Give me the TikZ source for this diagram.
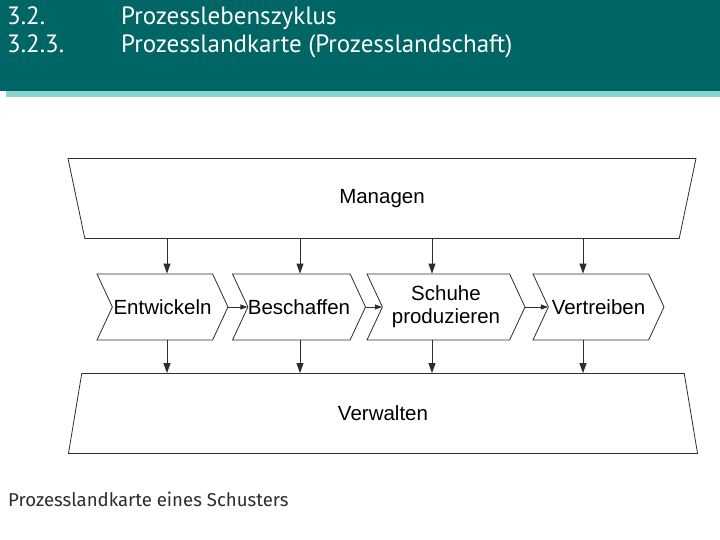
\documentclass[tikz,border=0pt]{standalone}
\usepackage{fontspec}
\setmainfont{Liberation Sans}
\newfontfamily\headfont{PT Sans}
\newfontfamily\capfont{Fira Sans}
\usetikzlibrary{shapes.geometric,shapes.symbols,arrows.meta}
\definecolor{headteal}{RGB}{0,101,101}
\definecolor{stripteal}{RGB}{137,212,207}
\definecolor{linegray}{RGB}{45,45,45}

\begin{document}
\begin{tikzpicture}[x=1pt,y=-1pt]
\tikzstyle{every node}+=[inner sep=0pt]
\tikzstyle{band}=[trapezium, trapezium stretches=true, draw=linegray, line width=0.8pt,
  minimum width=632pt, minimum height=80pt, trapezium angle=82.5,
  font=\fontsize{20.5}{23}\selectfont]
\tikzstyle{stage}=[signal, signal to=east, signal from=west, signal pointer angle=130,
  draw=linegray, line width=0.8pt, minimum height=66pt, minimum width=131pt,
  align=center, font=\fontsize{20.5}{23}\selectfont]
\tikzstyle{arr}=[linegray, line width=0.8pt, -{Triangle[length=10pt,width=7pt]}]
\tikzstyle{sarr}=[linegray, line width=0.8pt, -{Triangle[length=7pt,width=5pt]}]
\tikzstyle{head}=[anchor=base west, text=white, font=\headfont\fontsize{25}{29}\selectfont]
\useasboundingbox (0,0) rectangle (720,540);

\fill [headteal] (0,0) rectangle (720,91);
\fill [stripteal] (6,91) rectangle (720,97);
\node [head] (n1) at (7,25) {3.2.};
\node [head] (t1) at (121,25) {Prozesslebenszyklus};
\node [head] (n2) at (7,53) {3.2.3.};
\node [head] (t2) at (121,53) {Prozesslandkarte (Prozesslandschaft)};

\node [band, shape border rotate=180] (man) at (382,198.5) {Managen};
\node [band] (ver) at (383,413.5) {Verwalten};

\node [stage] (ent) at (162.5,307) {Entwickeln};
\node [stage] (bes) at (299,307) {Beschaffen};
\node [stage, minimum width=158pt] (sch) at (446,307) {Schuhe\\produzieren};
\node [stage] (vert) at (598.5,307) {Vertreiben};

\draw [sarr] (ent.east) -- (bes.west);
\draw [sarr] (bes.east) -- (sch.west);
\draw [sarr] (sch.east) -- (vert.west);

\draw [arr] ([xshift=4.5pt]ent.north |- man.south) -- ([xshift=4.5pt]ent.north);
\draw [arr] ([xshift=1pt]bes.north |- man.south) -- ([xshift=1pt]bes.north);
\draw [arr] ([xshift=-14pt]sch.north |- man.south) -- ([xshift=-14pt]sch.north);
\draw [arr] ([xshift=-15.5pt]vert.north |- man.south) -- ([xshift=-15.5pt]vert.north);

\draw [arr] ([xshift=4.5pt]ent.south) -- ([xshift=4.5pt]ent.south |- ver.north);
\draw [arr] ([xshift=1pt]bes.south) -- ([xshift=1pt]bes.south |- ver.north);
\draw [arr] ([xshift=-14pt]sch.south) -- ([xshift=-14pt]sch.south |- ver.north);
\draw [arr] ([xshift=-15.5pt]vert.south) -- ([xshift=-15.5pt]vert.south |- ver.north);

\node [anchor=base west, text=linegray, font=\capfont\fontsize{18.6}{21}\selectfont] (cap) at (8,506) {Prozesslandkarte eines Schusters};
\end{tikzpicture}
\end{document}
